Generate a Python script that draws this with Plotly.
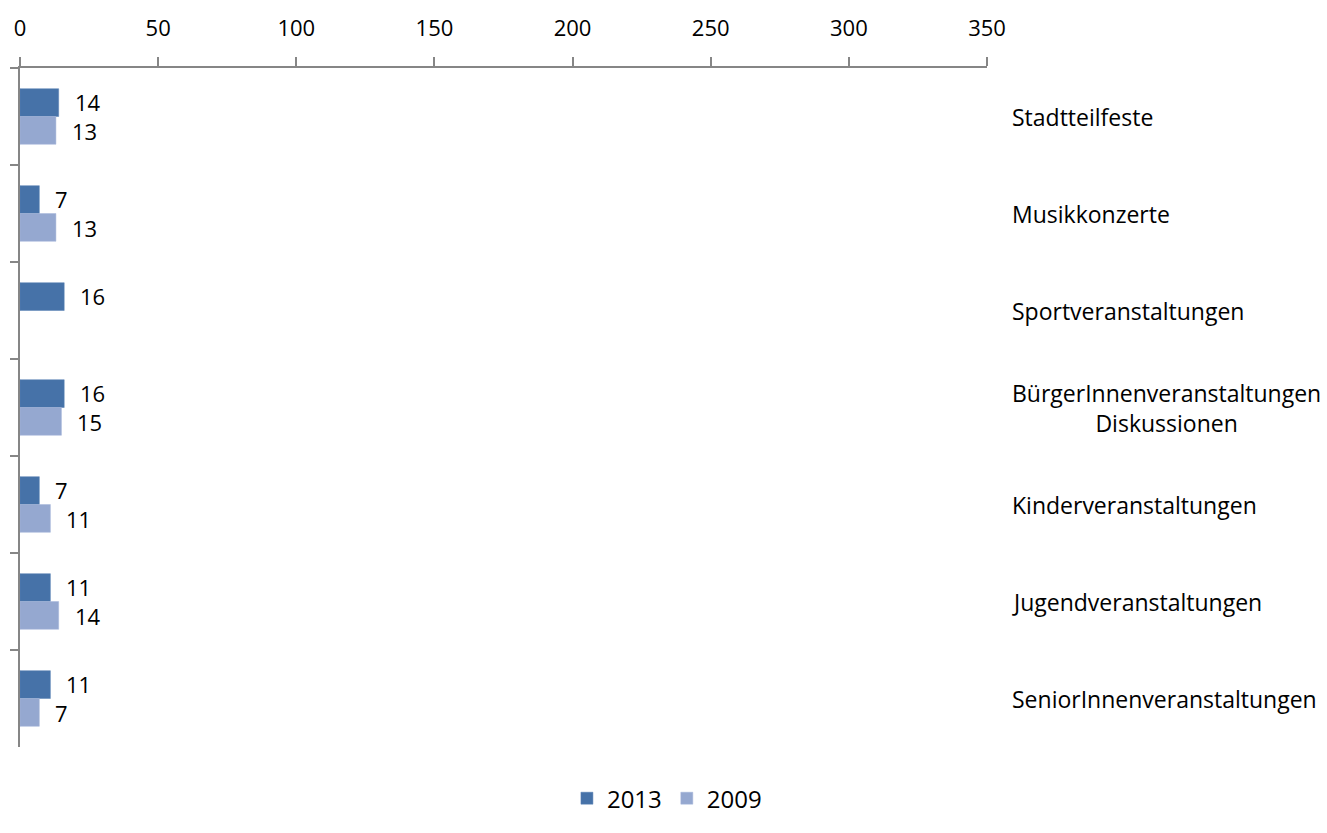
import plotly.graph_objects as go

categories = [
    "Stadtteilfeste",
    "Musikkonzerte",
    "Sportveranstaltungen",
    "BürgerInnenveranstaltungen<br>Diskussionen",
    "Kinderveranstaltungen",
    "Jugendveranstaltungen",
    "SeniorInnenveranstaltungen",
]
values_2013 = [14, 7, 16, 16, 7, 11, 11]
values_2009 = [13, 13, None, 15, 11, 14, 7]
x_ticks = [0, 50, 100, 150, 200, 250, 300, 350]

FONT = "Open Sans"
AXIS_GREY = "#868686"

fig = go.Figure()
fig.add_trace(go.Bar(name="2013", y=categories, x=values_2013, orientation="h",
                     marker=dict(color="#4672A8", line=dict(color="#5a83b5", width=0.5))))
fig.add_trace(go.Bar(name="2009", y=categories, x=values_2009, orientation="h",
                     marker=dict(color="#95A8D0", line=dict(color="#a6b7da", width=0.5))))

annotations = []
# value labels next to each bar
for series, shift in ((values_2013, 14.5), (values_2009, -14.5)):
    for cat, v in zip(categories, series):
        if v is None:
            continue
        annotations.append(dict(x=v, y=cat, xref="x", yref="y", text=str(v),
                                showarrow=False, xanchor="left", yanchor="middle",
                                xshift=14, yshift=shift,
                                font=dict(family=FONT, size=22, color="black")))
# category names on the right side
for cat in categories:
    annotations.append(dict(x=1, y=cat, xref="paper", yref="y", text=cat,
                            showarrow=False, xanchor="left", yanchor="middle",
                            align="center", xshift=23,
                            font=dict(family=FONT, size=23, color="black")))

fig.update_layout(
    width=1327, height=833,
    margin=dict(l=18, r=340, t=61, b=64),
    paper_bgcolor="white", plot_bgcolor="white",
    barmode="group", bargap=0.427, bargroupgap=0,
    font=dict(family=FONT, size=22, color="black"),
    showlegend=True,
    legend=dict(orientation="h", x=0.669, xanchor="center", y=-0.076, yanchor="middle",
                font=dict(family=FONT, size=24, color="black"), traceorder="normal",
                itemwidth=30, tracegroupgap=0),
    annotations=annotations,
    xaxis=dict(side="top", range=[0, 350], tickvals=x_ticks, ticktext=[str(t) for t in x_ticks],
               showgrid=False, zeroline=False, showline=True, linecolor=AXIS_GREY, linewidth=2,
               ticks="outside", ticklen=9, tickwidth=1.5, tickcolor=AXIS_GREY,
               ticklabelstandoff=12,
               tickfont=dict(family=FONT, size=22, color="black")),
    yaxis=dict(autorange="reversed", type="category", showticklabels=False,
               showgrid=False, zeroline=False, showline=True, linecolor=AXIS_GREY, linewidth=2,
               ticks="outside", ticklen=8, tickwidth=1.5, tickcolor=AXIS_GREY,
               tickson="boundaries"),
)

fig.write_html("out.html")
